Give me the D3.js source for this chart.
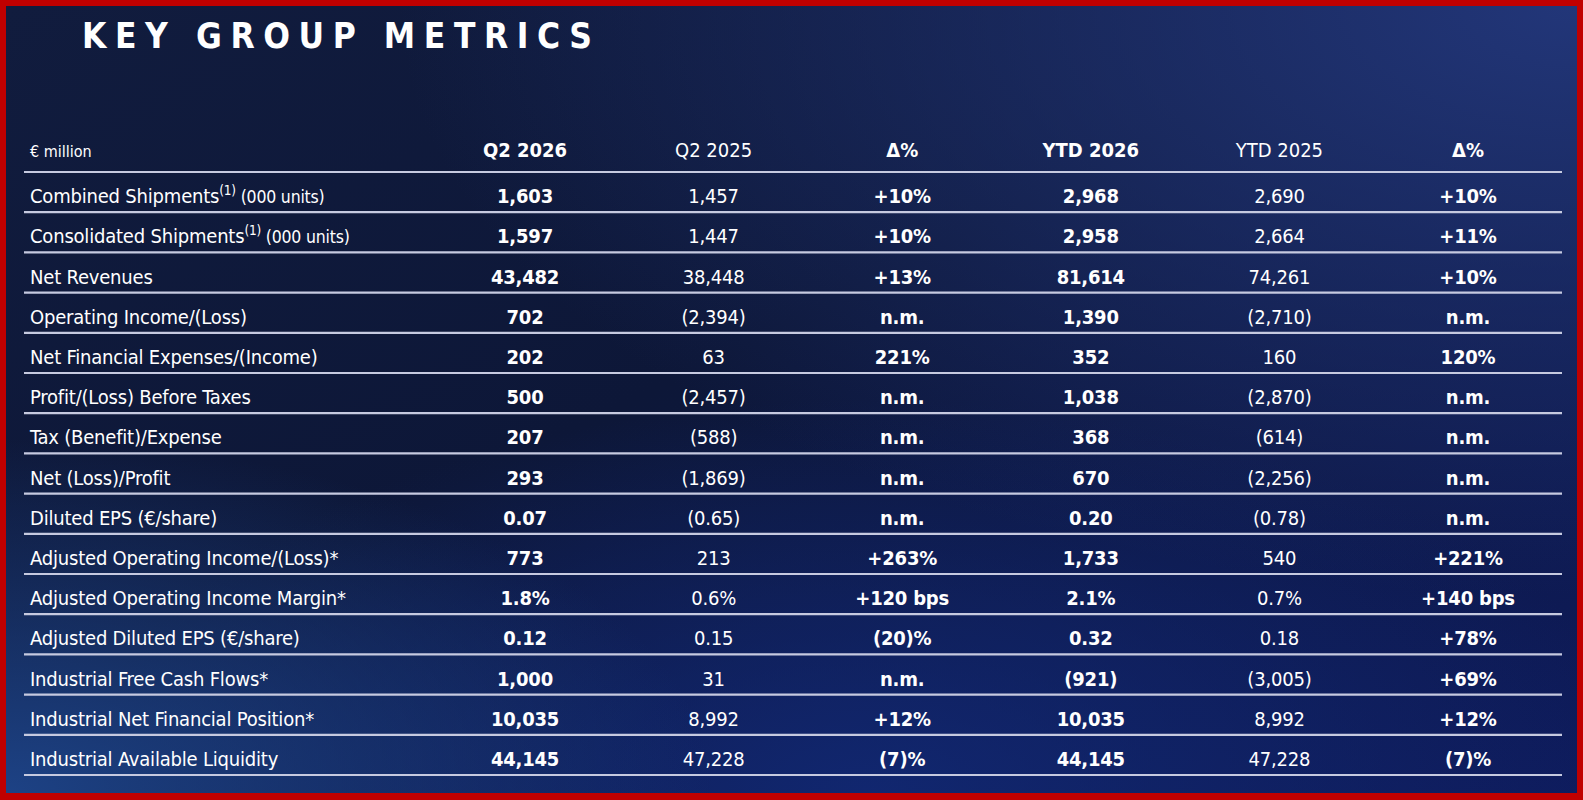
<!DOCTYPE html>
<html>
<head>
<meta charset="utf-8">
<script src="https://cdn.jsdelivr.net/npm/d3@7"></script>
<style>
  html, body { margin: 0; padding: 0; background: #c00000; overflow: hidden; }
  svg { display: block; }
  text { fill: #ffffff; font-family: "Liberation Sans Narrow", "DejaVu Sans Condensed", "Roboto Condensed", sans-serif; }
</style>
</head>
<body>
<div id="chart"></div>
<script>
const title = "KEY GROUP METRICS";
const unitLabel = "€ million";
const columns = ["Q2 2026", "Q2 2025", "Δ%", "YTD 2026", "YTD 2025", "Δ%"];
const boldColumns = [true, false, true, true, false, true];

const rowLabels = [
  "Combined Shipments", "Consolidated Shipments", "Net Revenues",
  "Operating Income/(Loss)", "Net Financial Expenses/(Income)",
  "Profit/(Loss) Before Taxes", "Tax (Benefit)/Expense", "Net (Loss)/Profit",
  "Diluted EPS (€/share)", "Adjusted Operating Income/(Loss)*",
  "Adjusted Operating Income Margin*", "Adjusted Diluted EPS (€/share)",
  "Industrial Free Cash Flows*", "Industrial Net Financial Position*",
  "Industrial Available Liquidity"
];
const rowSup = ["(1)", "(1)", "", "", "", "", "", "", "", "", "", "", "", "", ""];
const rowUnits = ["(000 units)", "(000 units)", "", "", "", "", "", "", "", "", "", "", "", "", ""];

const q2_2026 = ["1,603", "1,597", "43,482", "702", "202", "500", "207", "293", "0.07", "773", "1.8%", "0.12", "1,000", "10,035", "44,145"];
const q2_2025 = ["1,457", "1,447", "38,448", "(2,394)", "63", "(2,457)", "(588)", "(1,869)", "(0.65)", "213", "0.6%", "0.15", "31", "8,992", "47,228"];
const q2Delta = ["+10%", "+10%", "+13%", "n.m.", "221%", "n.m.", "n.m.", "n.m.", "n.m.", "+263%", "+120 bps", "(20)%", "n.m.", "+12%", "(7)%"];
const ytd2026 = ["2,968", "2,958", "81,614", "1,390", "352", "1,038", "368", "670", "0.20", "1,733", "2.1%", "0.32", "(921)", "10,035", "44,145"];
const ytd2025 = ["2,690", "2,664", "74,261", "(2,710)", "160", "(2,870)", "(614)", "(2,256)", "(0.78)", "540", "0.7%", "0.18", "(3,005)", "8,992", "47,228"];
const ytdDelta = ["+10%", "+11%", "+10%", "n.m.", "120%", "n.m.", "n.m.", "n.m.", "n.m.", "+221%", "+140 bps", "+78%", "+69%", "+12%", "(7)%"];

const draw = () => {
  const W = 1583, H = 800, border = 6;
  const fs = 20;
  const series = [q2_2026, q2_2025, q2Delta, ytd2026, ytd2025, ytdDelta];

  const svg = d3.select("#chart").append("svg")
    .attr("width", W).attr("height", H);

  const defs = svg.append("defs");
  const base = defs.append("linearGradient").attr("id", "bg")
    .attr("x1", "0").attr("y1", "0").attr("x2", "1").attr("y2", "1");
  base.append("stop").attr("offset", "0%").attr("stop-color", "#111c3e");
  base.append("stop").attr("offset", "45%").attr("stop-color", "#0d1738");
  base.append("stop").attr("offset", "100%").attr("stop-color", "#0e1b5c");

  const tr = defs.append("radialGradient").attr("id", "glowTR")
    .attr("cx", "1").attr("cy", "0").attr("r", "0.75");
  tr.append("stop").attr("offset", "0%").attr("stop-color", "#223679").attr("stop-opacity", 1);
  tr.append("stop").attr("offset", "100%").attr("stop-color", "#223679").attr("stop-opacity", 0);

  const bl = defs.append("radialGradient").attr("id", "glowBL")
    .attr("cx", "0").attr("cy", "1").attr("r", "0.45");
  bl.append("stop").attr("offset", "0%").attr("stop-color", "#1d4285").attr("stop-opacity", 1);
  bl.append("stop").attr("offset", "100%").attr("stop-color", "#1d4285").attr("stop-opacity", 0);

  const bm = defs.append("radialGradient").attr("id", "glowBM")
    .attr("cx", "0.55").attr("cy", "1").attr("r", "0.5");
  bm.append("stop").attr("offset", "0%").attr("stop-color", "#122a78").attr("stop-opacity", 0.8);
  bm.append("stop").attr("offset", "100%").attr("stop-color", "#122a78").attr("stop-opacity", 0);

  svg.append("rect").attr("width", W).attr("height", H).attr("fill", "#c00000");
  ["url(#bg)", "url(#glowTR)", "url(#glowBM)", "url(#glowBL)"].forEach(f => {
    svg.append("rect")
      .attr("x", border).attr("y", border)
      .attr("width", W - 2 * border).attr("height", H - border - 7)
      .attr("fill", f);
  });

  svg.append("text")
    .attr("x", 82).attr("y", 48)
    .attr("font-size", 35).attr("font-weight", "bold")
    .attr("letter-spacing", "0.245em")
    .text(title);

  const rowKeys = ["header", ...rowLabels];
  const y = d3.scaleBand().domain(rowKeys).range([131.8, 775]).padding(0);
  const x = d3.scalePoint().domain(d3.range(columns.length)).range([525, 1468]);
  const bw = y.bandwidth();

  // row separators
  svg.append("g").selectAll("line").data(rowKeys).join("line")
    .attr("x1", 24).attr("x2", 1562)
    .attr("y1", d => y(d) + bw).attr("y2", d => y(d) + bw)
    .attr("stroke", "#c6cae0").attr("stroke-width", 2.2);

  // header
  const header = svg.append("g");
  header.append("text")
    .attr("x", 30).attr("y", y("header") + bw - 15)
    .attr("font-size", 16)
    .text(unitLabel);
  header.selectAll("text.col").data(columns).join("text")
    .attr("class", "col")
    .attr("x", (d, i) => x(i)).attr("y", y("header") + bw - 15)
    .attr("text-anchor", "middle")
    .attr("font-size", fs)
    .attr("font-weight", (d, i) => boldColumns[i] ? "bold" : "normal")
    .text(d => d);

  // row labels
  const labels = svg.append("g").selectAll("text").data(rowLabels).join("text")
    .attr("x", 30).attr("y", d => y(d) + bw - 9)
    .attr("font-size", fs)
    .attr("letter-spacing", -0.2);
  labels.append("tspan").text(d => d);
  labels.append("tspan")
    .attr("font-size", 13.5).attr("dy", -8)
    .text((d, i) => rowSup[i]);
  labels.append("tspan")
    .attr("font-size", 17.5).attr("dy", (d, i) => rowSup[i] ? 8 : 0)
    .text((d, i) => rowUnits[i] ? " " + rowUnits[i] : "");

  // values
  series.forEach((vals, c) => {
    svg.append("g").selectAll("text").data(vals).join("text")
      .attr("x", x(c))
      .attr("y", (d, i) => y(rowLabels[i]) + bw - 9)
      .attr("text-anchor", "middle")
      .attr("font-size", fs)
      .attr("letter-spacing", -0.2)
      .attr("font-weight", boldColumns[c] ? "bold" : "normal")
      .text(d => d);
  });
};

window.onload = draw;
</script>
</body>
</html>
